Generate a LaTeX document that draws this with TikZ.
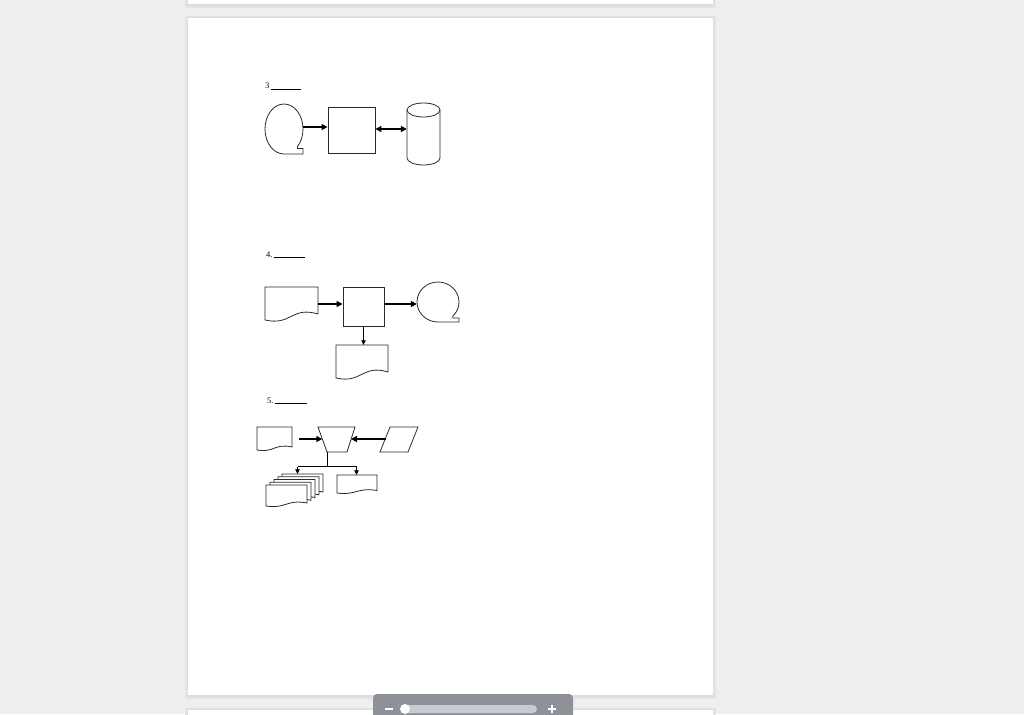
\documentclass[tikz,border=0pt]{standalone}
\usepackage{fontspec}
\setmainfont{Liberation Serif}
\usetikzlibrary{arrows.meta,calc,shapes.geometric}
\definecolor{bgc}{HTML}{EEEEEE}
\definecolor{shadA}{HTML}{E4E4E4}
\definecolor{shadB}{HTML}{DCDCDC}
\definecolor{barc}{HTML}{8E9298}
\definecolor{trackc}{HTML}{C8CBCF}
\definecolor{linec}{HTML}{2A2A2A}
\newcommand\mydoc[6]{%
  \node[inner sep=0,minimum width={((#3)-(#1))*1pt},minimum height={((#4)-(#2))*1pt}] (#6) at ({((#1)+(#3))/2},{((#2)+(#4))/2}) {};
  \draw[shp] (#1,#2) -- (#3,#2) -- (#3,{(#4)-(#5)}) .. controls ({((#1)+(#3))/2},{(#4)-2.33*(#5)}) and ({((#1)+(#3))/2},{(#4)+(#5)}) .. (#1,#4) -- cycle;}
\newcommand\pagebox[4]{%
  \fill[shadA] ({#1-3},{#2-2}) rectangle ({#3+3},{#4+4});
  \fill[shadB] ({#1-1},{#2-1}) rectangle ({#3+1},{#4+2});
  \fill[white] (#1,#2) rectangle (#3,#4);}
\begin{document}
\begin{tikzpicture}[x=1pt,y=-1pt,
  shp/.style={draw=linec,line width=0.8pt,fill=white,line join=miter},
  fatarrow/.style={draw=black,line width=1.8pt,-{Triangle[length=6pt,width=6pt]}},
  dblarrow/.style={draw=black,line width=1.8pt,{Triangle[length=6pt,width=6pt]}-{Triangle[length=6pt,width=6pt]}},
  thinarrow/.style={draw=black,line width=0.8pt,-{Triangle[length=4.5pt,width=4.5pt]}},
  thinline/.style={draw=black,line width=0.8pt},
  lbl/.style={anchor=base west,inner sep=0,font=\fontsize{8.5}{9}\selectfont}]
\useasboundingbox (0,0) rectangle (1024,714);
\fill[bgc] (0,0) rectangle (1024,714);
% pages
\pagebox{188}{-10}{713}{4}
\pagebox{188}{18}{713}{695}
\pagebox{188}{710}{713}{730}
% toolbar
\fill[barc,rounded corners=4pt] (373,694) rectangle (573,724);
\fill[trackc,rounded corners=4pt] (403,705) rectangle (537,713);
\fill[white] (405,709) circle (5);
\draw[white,line width=1.5pt] (385,709) -- (393,709);
\draw[white,line width=1.5pt] (548,709) -- (556,709) (552,705) -- (552,713);

% ---------- 3 ----------
\node[lbl] (l3) at (265,89) {3\kern1.5pt\rule[-1pt]{30pt}{0.5pt}};
\node[ellipse,inner sep=0,minimum width=38pt,minimum height=50pt] (t3) at (284,129) {};
\draw[shp] (284,154) arc[start angle=90,end angle=405,x radius=19,y radius=25] -- (297.4,148.5) -- (303,148.5) -- (303,154) -- cycle;
\node[shp,inner sep=0,minimum width=47pt,minimum height=46pt] (r3) at (351.5,130) {};
\node[inner sep=0,minimum width=33pt,minimum height=62pt] (c3) at (423.5,134) {};
\draw[shp] (407,110) -- (407,158) arc[start angle=180,end angle=0,x radius=16.5,y radius=7] -- (440,110) -- cycle;
\draw[shp] (423.5,110) ellipse[x radius=16.5,y radius=7];
\draw[fatarrow] ([yshift=2pt]t3.east) -- ([yshift=3pt]r3.west);
\draw[dblarrow] ([yshift=1pt]r3.east) -- ([yshift=5pt]c3.west);

% ---------- 4 ----------
\node[lbl] (l4) at (266,257) {4.\kern1pt\rule[0pt]{31pt}{0.5pt}};
\mydoc{265}{287}{318}{320}{6}{d41}
\node[shp,inner sep=0,minimum width=41pt,minimum height=39pt] (r4) at (363.5,306.5) {};
\node[ellipse,inner sep=0,minimum width=42pt,minimum height=40pt] (t4) at (438,302) {};
\draw[shp] (438,322) arc[start angle=90,end angle=405,x radius=21,y radius=20] -- (452.8,318) -- (459,318) -- (459,322) -- cycle;
\mydoc{336}{345}{388}{378}{6}{d42}
\coordinate (a4) at ([yshift=-0.5pt]d41.east);
\draw[fatarrow] (a4) -- (r4.west |- a4);
\draw[fatarrow] (r4.east |- a4) -- (t4.west |- a4);
\draw[thinarrow] (r4.south) -- (r4.south |- d42.north);

% ---------- 5 ----------
\node[lbl] (l5) at (267,403) {5.\kern1pt\rule[0pt]{32pt}{0.5pt}};
\mydoc{257}{427}{292}{450}{3}{d51}
\node[inner sep=0,minimum width=37pt,minimum height=25pt] (tz) at (336.5,439.5) {};
\draw[shp] (318,427) -- (355,427) -- (347,452) -- (327,452) -- cycle;
\coordinate (tzl) at (322.3,439);
\coordinate (tzr) at (351,439);
\coordinate (tzb) at (327.5,452);
\node[inner sep=0,minimum width=38pt,minimum height=25pt] (pg) at (399,439.5) {};
\draw[shp] (390,427) -- (418,427) -- (408,452) -- (380,452) -- cycle;
\coordinate (pgl) at (385.5,439);
\coordinate (d51r) at (299,439);
\draw[fatarrow] (d51r) -- (tzl);
\draw[fatarrow] (pgl) -- (tzr);
\coordinate (br) at (327.5,466.5);
\coordinate (bl) at (297.5,466.5);
\coordinate (bR) at (356.5,466.5);
\draw[thinline] (tzb) -- (br);
\draw[thinline] (bl) -- (bR);
\foreach \k in {4,3,2,1,0}{
  \mydoc{266+4*\k}{485-2.75*\k}{307+4*\k}{506-2.75*\k}{3}{s\k}
}
\mydoc{337}{475}{377}{493}{2.5}{d52}
\draw[thinarrow] (bl) -- (bl |- s4.north);
\draw[thinarrow] (bR) -- (bR |- d52.north);
\end{tikzpicture}
\end{document}
